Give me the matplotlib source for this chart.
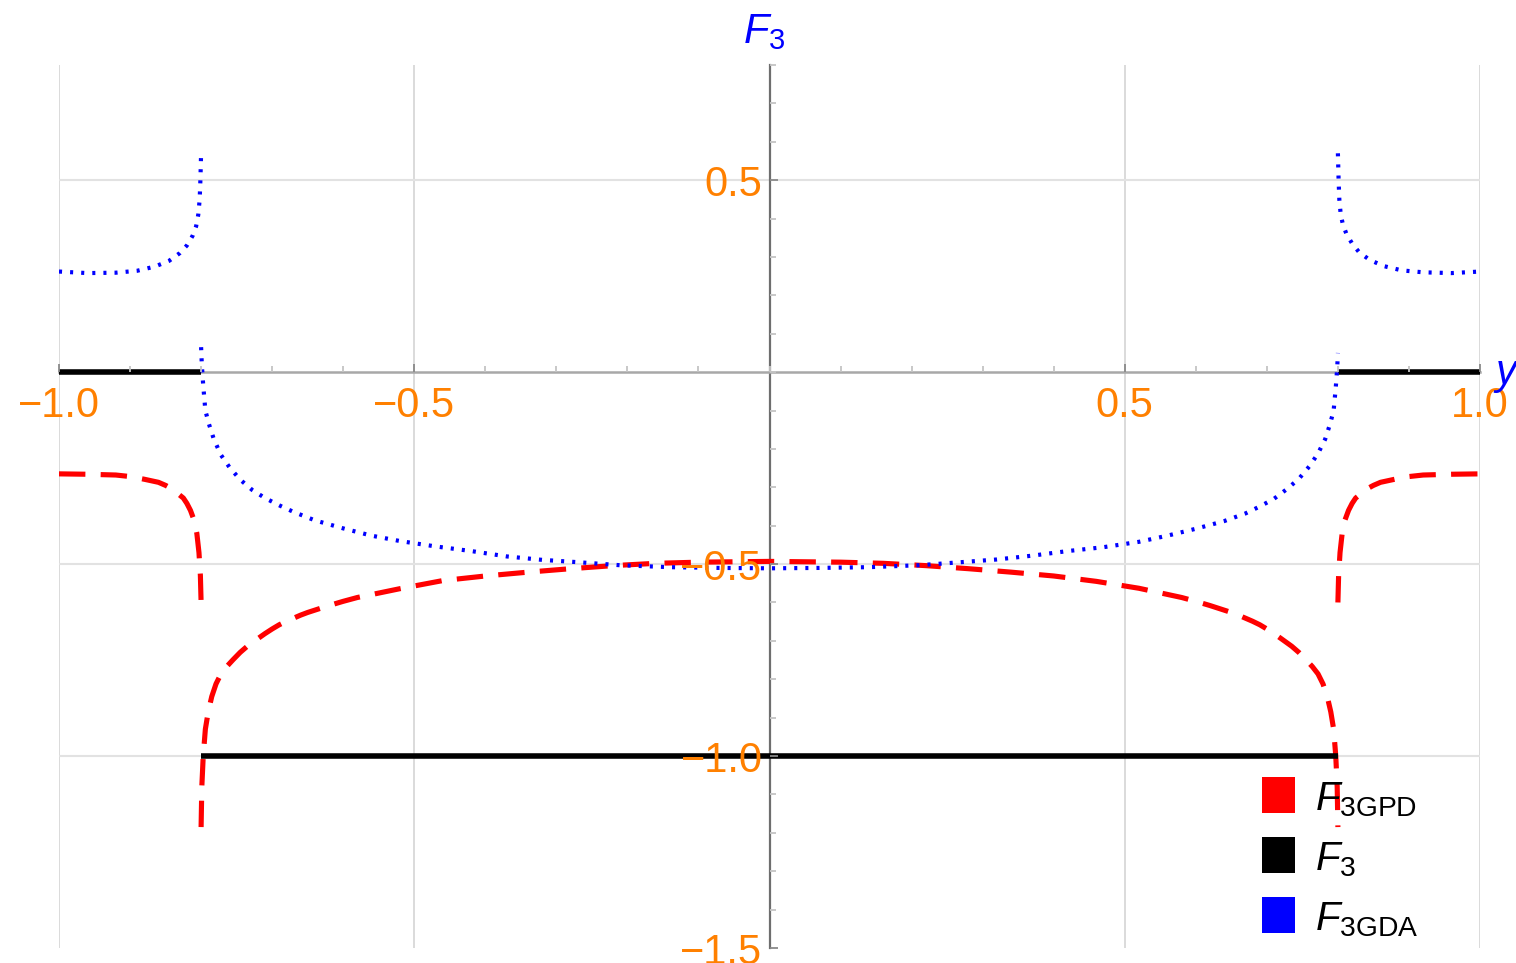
import matplotlib
matplotlib.use('Agg')
import matplotlib.pyplot as plt
from matplotlib.patches import Rectangle
from matplotlib.ticker import FixedLocator, MultipleLocator

plt.rcParams['font.family'] = ['Liberation Sans', 'DejaVu Sans']
plt.rcParams['mathtext.fontset'] = 'custom'
plt.rcParams['mathtext.it'] = 'Liberation Sans:italic'
plt.rcParams['mathtext.rm'] = 'Liberation Sans'
plt.rcParams['lines.scale_dashes'] = False

# F3 (exact): piecewise constant, jumps at y = +-0.8
f3_left_x = [-1.0, -0.8]
f3_left_y = [0.0, 0.0]
f3_mid_x = [-0.8, 0.8]
f3_mid_y = [-1.0, -1.0]
f3_right_x = [0.8, 1.0]
f3_right_y = [0.0, 0.0]

# F3 GPD part, outer branches
gpd_outl_x = [-1.0, -0.96, -0.92, -0.90, -0.88, -0.86, -0.85, -0.84, -0.835, -0.825, -0.82,
              -0.815, -0.81, -0.806, -0.803, -0.801, -0.800]
gpd_outl_y = [-0.265, -0.266, -0.268, -0.272, -0.279, -0.287, -0.295, -0.305, -0.313, -0.328, -0.342,
              -0.360, -0.385, -0.420, -0.470, -0.530, -0.600]
gpd_outr_x = [0.800, 0.801, 0.803, 0.806, 0.81, 0.815, 0.82, 0.825, 0.835, 0.84, 0.85, 0.86,
              0.88, 0.90, 0.92, 0.96, 1.0]
gpd_outr_y = [-0.600, -0.530, -0.470, -0.420, -0.385, -0.360, -0.342, -0.328, -0.313, -0.305, -0.295, -0.287,
              -0.279, -0.272, -0.268, -0.266, -0.265]

# F3 GPD part, inner branch
gpd_in_x = [-0.800, -0.799, -0.797, -0.794, -0.790, -0.785, -0.779, -0.772, -0.764, -0.755, -0.745,
            -0.735, -0.72, -0.71, -0.70, -0.69, -0.68, -0.67, -0.66, -0.65, -0.64, -0.62, -0.60,
            -0.58, -0.52, -0.46, -0.40, -0.34, -0.28, -0.22, -0.16, -0.10, 0.0,
            0.10, 0.16, 0.22, 0.28, 0.34, 0.40, 0.46, 0.52, 0.58,
            0.60, 0.62, 0.64, 0.65, 0.66, 0.67, 0.68, 0.69, 0.70, 0.71, 0.72,
            0.735, 0.745, 0.755, 0.764, 0.772, 0.779, 0.785, 0.790, 0.794, 0.797, 0.799, 0.800]
gpd_in_y = [-1.185, -1.080, -1.000, -0.930, -0.885, -0.845, -0.812, -0.786, -0.767, -0.749, -0.730,
            -0.714, -0.694, -0.681, -0.669, -0.658, -0.649, -0.641, -0.633, -0.626, -0.620, -0.608, -0.597,
            -0.587, -0.564, -0.543, -0.531, -0.521, -0.512, -0.504, -0.498, -0.495, -0.493,
            -0.495, -0.498, -0.504, -0.512, -0.521, -0.531, -0.545, -0.563, -0.587,
            -0.597, -0.608, -0.620, -0.626, -0.633, -0.641, -0.649, -0.658, -0.669, -0.681, -0.694,
            -0.714, -0.730, -0.749, -0.767, -0.786, -0.812, -0.845, -0.885, -0.930, -1.000, -1.080, -1.185]

# F3 GDA part, outer branches
gda_outl_x = [-1.0, -0.96, -0.92, -0.89, -0.865, -0.845, -0.83, -0.82, -0.812, -0.807, -0.804, -0.802, -0.801, -0.800]
gda_outl_y = [0.262, 0.258, 0.259, 0.264, 0.275, 0.290, 0.310, 0.330, 0.355, 0.380, 0.410, 0.450, 0.500, 0.570]
gda_outr_x = [0.800, 0.801, 0.802, 0.804, 0.807, 0.812, 0.82, 0.83, 0.845, 0.865, 0.89, 0.92, 0.96, 1.0]
gda_outr_y = [0.570, 0.500, 0.450, 0.410, 0.385, 0.360, 0.335, 0.312, 0.292, 0.276, 0.265, 0.260, 0.258, 0.262]

# F3 GDA part, inner branch
gda_in_x = [-0.800, -0.799, -0.797, -0.794, -0.789, -0.782, -0.772, -0.76, -0.745, -0.728, -0.71,
            -0.69, -0.67, -0.64, -0.60, -0.56, -0.52, -0.47, -0.42, -0.37, -0.32, -0.27, -0.21,
            -0.14, -0.07, 0.0, 0.07, 0.14, 0.21, 0.27, 0.32, 0.37, 0.42, 0.47, 0.52, 0.56, 0.60,
            0.64, 0.67, 0.69, 0.71, 0.728, 0.745, 0.76, 0.772, 0.782, 0.789, 0.794, 0.797, 0.799, 0.800]
gda_in_y = [0.065, 0.020, -0.035, -0.100, -0.135, -0.175, -0.216, -0.248, -0.280, -0.307, -0.328,
            -0.347, -0.364, -0.386, -0.407, -0.426, -0.440, -0.454, -0.466, -0.480, -0.489, -0.495, -0.503,
            -0.508, -0.510, -0.511, -0.510, -0.508, -0.503, -0.495, -0.488, -0.478, -0.466, -0.456, -0.442,
            -0.426, -0.408, -0.388, -0.368, -0.350, -0.330, -0.305, -0.278, -0.245, -0.212, -0.175, -0.135,
            -0.100, -0.040, 0.010, 0.050]

x_ticks = [-1.0, -0.5, 0.5, 1.0]
x_tick_labels = ['\u22121.0', '\u22120.5', '0.5', '1.0']
y_ticks = [0.5, -0.5, -1.0, -1.5]
y_tick_labels = ['0.5', '\u22120.5', '\u22121.0', '\u22121.5']

legend_labels = [r'$F_{3\mathrm{GPD}}$', r'$F_3$', r'$F_{3\mathrm{GDA}}$']
legend_colors = ['#ff0000', '#000000', '#0000ff']

W, H = 1516, 963
fig = plt.figure(figsize=(W / 100, H / 100), dpi=100)
ax = fig.add_axes([59 / W, 1 - 948 / H, (1480 - 59) / W, (948 - 65) / H])
ax.set_xlim(-1.0, 1.0)
ax.set_ylim(-1.5, 0.8)

# axes through the origin
for s in ['top', 'right']:
    ax.spines[s].set_visible(False)
ax.spines['left'].set_position(('data', 0))
ax.spines['bottom'].set_position(('data', 0))
ax.spines['left'].set_color('#6e6e6e')
ax.spines['left'].set_linewidth(1.6)
ax.spines['bottom'].set_color('#a8a8a8')
ax.spines['bottom'].set_linewidth(1.8)
ax.spines['left'].set_zorder(1)
ax.spines['bottom'].set_zorder(1)
ax.set_axisbelow(False)

ax.xaxis.set_major_locator(FixedLocator(x_ticks))
ax.set_xticklabels(x_tick_labels)
ax.xaxis.set_minor_locator(MultipleLocator(0.1))
ax.yaxis.set_major_locator(FixedLocator(y_ticks))
ax.set_yticklabels(y_tick_labels)
ax.yaxis.set_minor_locator(MultipleLocator(0.1))
ax.tick_params(which='major', direction='in', length=6, width=1.3, color='#8a8a8a',
               labelcolor='#ff8000', labelsize=30)
ax.tick_params(which='minor', direction='in', length=4, width=1.3, color='#c4c4c4')
ax.tick_params(axis='x', which='major', pad=10)
ax.tick_params(axis='y', which='major', pad=5)

# light grid behind the curves
for gx in x_ticks:
    ax.axvline(gx, color='#d4d4d4', lw=1.2, zorder=0.5)
for gy in y_ticks[:-1]:
    ax.axhline(gy, color='#e2e2e2', lw=1.5, zorder=0.5)

dash = dict(color='#ff0000', lw=3.7, ls=(0, (19, 11)), dash_capstyle='butt', zorder=2)
dots = dict(color='#0000ff', lw=3.0, ls=(0, (2.2, 5.8)), dash_capstyle='butt', zorder=2.2)
solid = dict(color='#000000', lw=4.0, solid_capstyle='butt', zorder=2.1)

ax.plot(gpd_outl_x, gpd_outl_y, **dash)
ax.plot(gpd_in_x, gpd_in_y, **dash)
ax.plot(gpd_outr_x, gpd_outr_y, **dash)

ax.plot(f3_left_x, f3_left_y, **solid)
ax.plot(f3_mid_x, f3_mid_y, **solid)
ax.plot(f3_right_x, f3_right_y, **solid)

ax.plot(gda_outl_x, gda_outl_y, **dots)
ax.plot(gda_in_x, gda_in_y, **dots)
ax.plot(gda_outr_x, gda_outr_y, **dots)

# axis labels
fig.text(743 / W, 1 - 43 / H, r'$F_3$', color='#0000ff', fontsize=30, ha='left', va='baseline')
fig.text(1493 / W, 1 - 384 / H, r'$y$', color='#0000ff', fontsize=30, ha='left', va='baseline')

# legend swatches, bottom right
for i, (lab, col) in enumerate(zip(legend_labels, legend_colors)):
    yc = 795 + 60 * i
    fig.add_artist(Rectangle((1262 / W, 1 - (yc + 18) / H), 33 / W, 36 / H,
                             transform=fig.transFigure, fc=col, ec='none'))
    fig.text(1315 / W, 1 - (yc + 15) / H, lab, color='black', fontsize=29,
             ha='left', va='baseline')

fig.savefig('out.png', dpi=100)
